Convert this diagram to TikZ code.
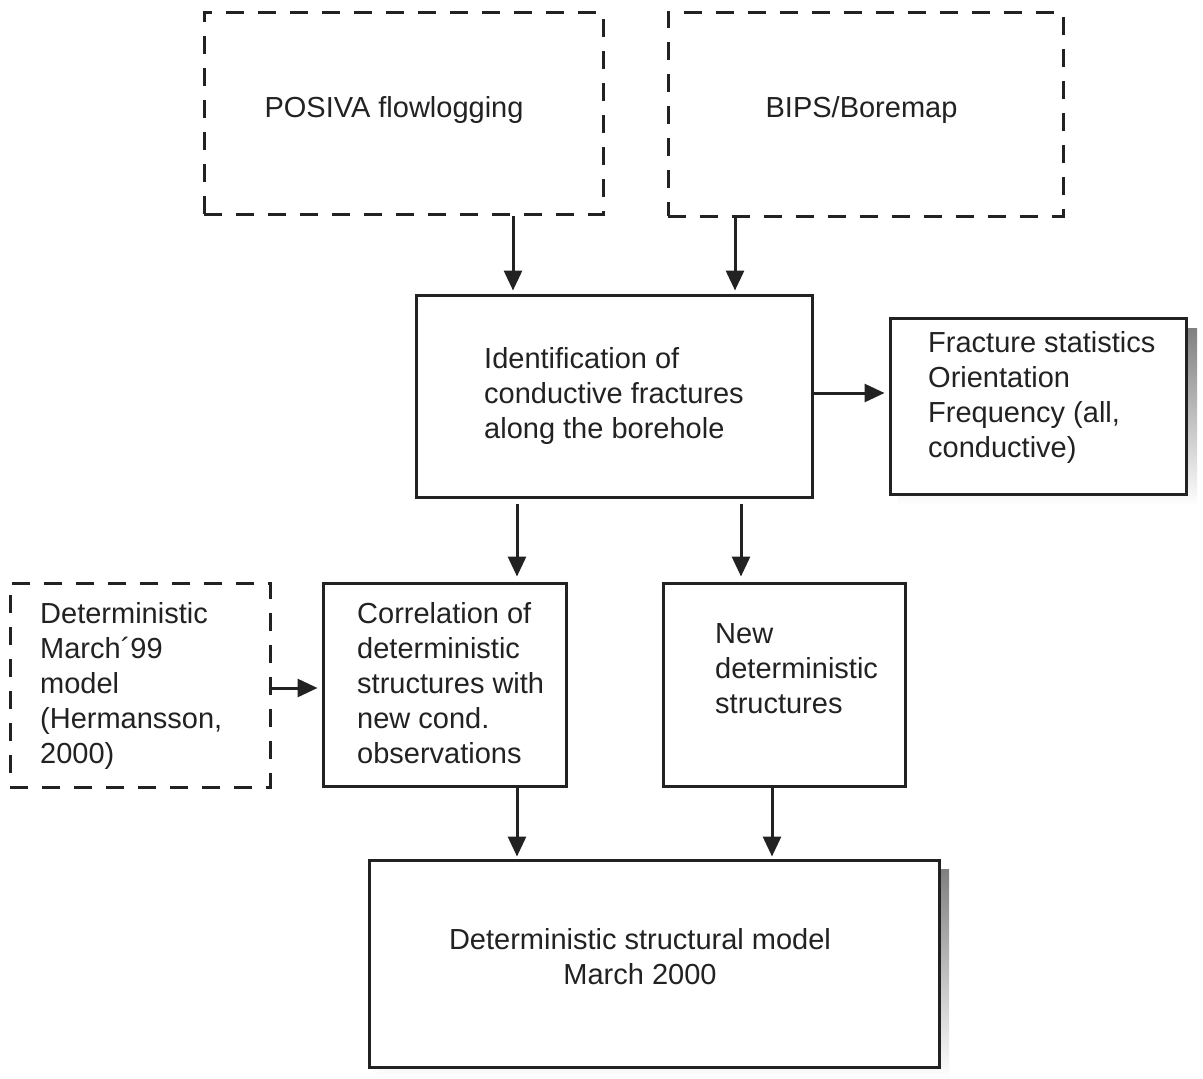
\documentclass[tikz,border=0pt]{standalone}
\usepackage{fontspec}
\setmainfont{Liberation Sans}
\usetikzlibrary{arrows.meta}
\definecolor{ink}{HTML}{222222}
\definecolor{shade}{HTML}{9C9C9C}
\begin{document}
\begin{tikzpicture}[x=1pt,y=-1pt,
  box/.style={draw=ink,line width=3pt,minimum width=#1,inner sep=0pt,fill=white},
  dbox/.style={box=#1,dash pattern=on 18pt off 14pt},
  txt/.style={inner sep=0pt,align=left,font=\fontsize{29}{35}\selectfont,text=ink},
  arr/.style={draw=ink,line width=3pt,-{Triangle[length=20pt,width=18pt]}},
]
\useasboundingbox[fill=white] (0,0) rectangle (1203,1079);
% shadows
\fill[shade] (898,328) rectangle (1197,506);
\fill[shade] (377,869) rectangle (949,1078);
% boxes
\node[dbox=399pt,minimum height=202pt] (pos) at (403.5,113) {};
\node[dbox=395pt,minimum height=204pt] (bips) at (865.5,114) {};
\node[box=396pt,minimum height=202pt] (ident) at (614,396) {};
\node[box=296pt,minimum height=176pt] (frac) at (1038,406) {};
\node[dbox=260pt,minimum height=204pt] (march) at (140,685) {};
\node[box=243pt,minimum height=203pt] (corr) at (444.5,684.5) {};
\node[box=242pt,minimum height=203pt] (newd) at (784,684.5) {};
\node[box=570pt,minimum height=207pt] (final) at (654,963.5) {};
% texts
\node[txt] (tpos) at (394,110) {POSIVA flowlogging};
\node[txt] (tbips) at (861.5,110) {BIPS/Boremap};
\node[txt,anchor=north west] (tident) at (484,347) {Identification of\\conductive fractures\\along the borehole};
\node[txt,anchor=north west] (tfrac) at (928,331) {Fracture statistics\\Orientation\\Frequency (all,\\conductive)};
\node[txt,anchor=north west] (tmarch) at (40,602) {Deterministic\\March\textasciiacute 99\\model\\(Hermansson,\\2000)};
\node[txt,anchor=north west] (tcorr) at (357,602) {Correlation of\\deterministic\\structures with\\new cond.\\observations};
\node[txt,anchor=north west] (tnewd) at (715,623) {New\\deterministic\\structures};
\node[txt,align=center] (tfinal) at (640,957) {Deterministic structural model\\March 2000};
% x-lines for vertical arrows
\coordinate (xa) at (513,0);
\coordinate (xb) at (735,0);
\coordinate (xc) at (517,0);
\coordinate (xd) at (741,0);
\coordinate (xe) at (772,0);
\coordinate (ya) at (0,393);
\coordinate (yb) at (0,688);
% connectors
\draw[arr,shorten >=3pt] (xa |- pos.south) -- (xa |- ident.north);
\draw[arr,shorten >=3pt] (xb |- bips.south) -- (xb |- ident.north);
\draw[arr,shorten >=4pt] (ident.east |- ya) -- (frac.west |- ya);
\draw[arr,shorten <=5pt,shorten >=5pt] (xc |- ident.south) -- (xc |- corr.north);
\draw[arr,shorten <=5pt,shorten >=5pt] (xd |- ident.south) -- (xd |- newd.north);
\draw[arr,shorten >=4pt] (march.east |- yb) -- (corr.west |- yb);
\draw[arr,shorten >=2pt] (xc |- corr.south) -- (xc |- final.north);
\draw[arr,shorten >=2pt] (xe |- newd.south) -- (xe |- final.north);
\end{tikzpicture}
\end{document}
